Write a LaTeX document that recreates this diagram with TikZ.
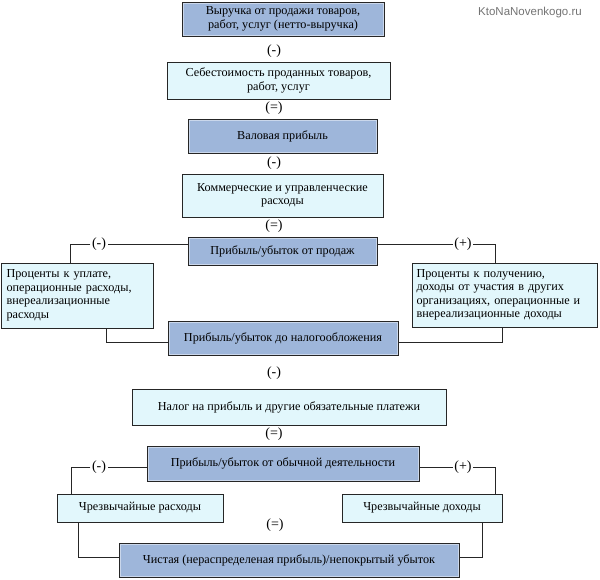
\documentclass[tikz,border=0pt]{standalone}
\usepackage{fontspec}
\setmainfont{Liberation Serif}
\newfontfamily\boxfont{Liberation Serif}
\newfontfamily\wmfont{Liberation Sans}
\usetikzlibrary{positioning}
\definecolor{darkfill}{RGB}{158,182,218}
\definecolor{lightfill}{RGB}{226,247,252}
\begin{document}
\begin{tikzpicture}[x=1pt,y=-1pt,
  dark/.style={draw=black!85,fill=darkfill,line width=1pt,inner sep=2pt,align=center,
    font=\boxfont\fontsize{12.2}{13.5}\selectfont,
    path picture={\draw[line width=3pt,white!45!darkfill]
      (path picture bounding box.south west) rectangle (path picture bounding box.north east);}},
  light/.style={draw=black!85,fill=lightfill,line width=.8pt,inner sep=2pt,align=center,
    font=\boxfont\fontsize{12.2}{13.5}\selectfont},
  sign/.style={inner sep=1.5pt,font=\boxfont\fontsize{14}{14}\selectfont},
  link/.style={draw=black!85,line width=.8pt}]
\useasboundingbox (0,0) rectangle (600,579);
\node[text=black!55,font=\wmfont\fontsize{11.5}{12}\selectfont] (wm) at (530,13) {KtoNaNovenkogo.ru};
\node[dark,minimum width=202pt,minimum height=34pt] (b1) at (283,19) {Выручка от продажи товаров,\\работ, услуг (нетто-выручка)};
\node[sign] (s1) at (274,51) {(-)};
\node[light,minimum width=223pt,minimum height=37pt] (b2) at (278.5,80.5) {Себестоимость проданных товаров,\\работ, услуг};
\node[sign] (s2) at (274,108) {(=)};
\node[dark,minimum width=189pt,minimum height=34pt] (b3) at (282.5,136) {Валовая прибыль};
\node[sign] (s3) at (274,163) {(-)};
\node[light,minimum width=201pt,minimum height=43pt] (b4) at (282.5,195.5) {Коммерческие и управленческие\\расходы};
\node[sign] (s4) at (274,226) {(=)};
\node[dark,minimum width=189pt,minimum height=28pt] (b5) at (282.5,251) {Прибыль/убыток от продаж};
\node[sign] (s5) at (99,244) {(-)};
\node[sign] (s6) at (463,244) {(+)};
\node[light,align=left,inner xsep=5pt,text width=142pt,minimum height=65pt] (b6) at (77.5,295.5) {Проценты к уплате,\\операционные расходы,\\внереализационные\\расходы};
\node[light,align=left,inner xsep=4pt,text width=177pt,minimum height=64pt] (b8) at (505,295) {Проценты к получению,\\доходы от участия в других\\организациях, операционные и\\внереализационные доходы};
\node[dark,minimum width=230pt,minimum height=34pt] (b7) at (283,338) {Прибыль/убыток до налогообложения};
\node[sign] (s7) at (274,373) {(-)};
\node[light,minimum width=314pt,minimum height=36pt] (b9) at (289,407) {Налог на прибыль и другие обязательные платежи};
\node[sign] (s8) at (274,434) {(=)};
\node[dark,minimum width=272pt,minimum height=35pt] (b10) at (283,463.5) {Прибыль/убыток от обычной деятельности};
\node[sign] (s9) at (99,467) {(-)};
\node[sign] (s10) at (463,467) {(+)};
\node[light,minimum width=166pt,minimum height=28pt] (b11) at (140,508) {Чрезвычайные расходы};
\node[light,minimum width=160pt,minimum height=28pt] (b12) at (422,508) {Чрезвычайные доходы};
\node[sign] (s11) at (275,525) {(=)};
\node[dark,minimum width=340pt,minimum height=34pt] (b13) at (289,560) {Чистая (нераспределеная прибыль)/непокрытый убыток};
\coordinate (c1) at (70,263);
\coordinate (c2) at (106,328);
\coordinate (c3) at (495,263);
\coordinate (c4) at (502,327);
\coordinate (c5) at (71,494);
\coordinate (c6) at (78,522);
\coordinate (c7) at (495,494);
\coordinate (c8) at (482,522);
\draw[link] (b5.west |- s5) -- (s5);
\draw[link] (s5) -| (c1);
\draw[link] (c2) |- ([yshift=-4pt]b7.west);
\draw[link] (b5.east |- s6) -- (s6);
\draw[link] (s6) -| (c3);
\draw[link] (c4) |- ([yshift=-4pt]b7.east);
\draw[link] (b10.west |- s9) -- (s9);
\draw[link] (s9) -| (c5);
\draw[link] (c6) |- ([yshift=3pt]b13.west);
\draw[link] (b10.east |- s10) -- (s10);
\draw[link] (s10) -| (c7);
\draw[link] (c8) |- ([yshift=3pt]b13.east);
\end{tikzpicture}
\end{document}
